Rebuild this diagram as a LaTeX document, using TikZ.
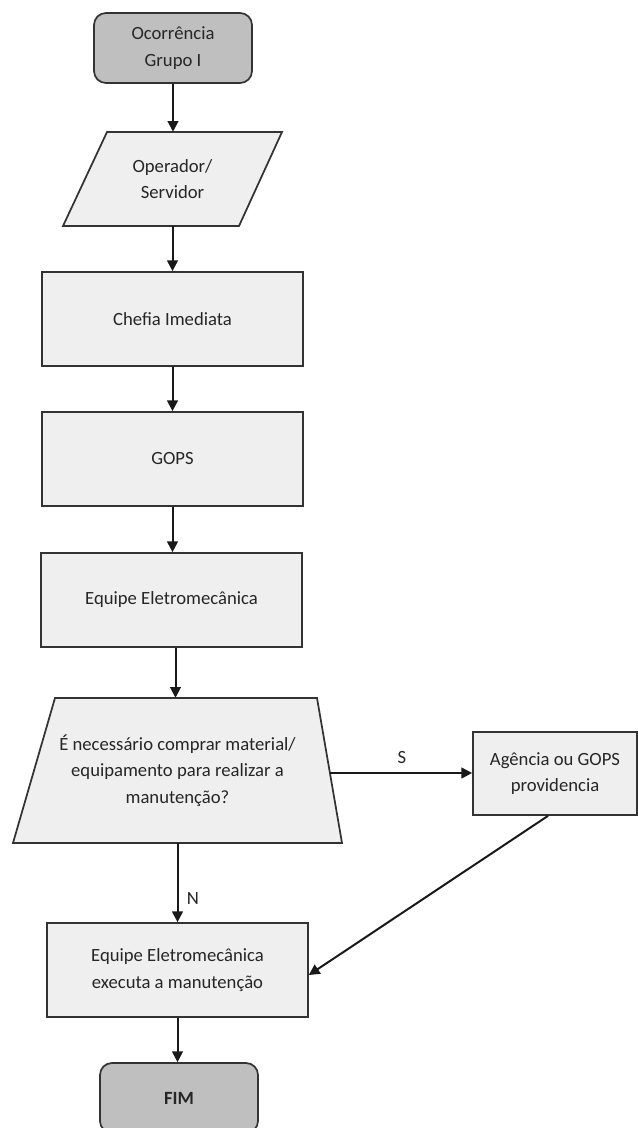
\documentclass[tikz,border=0pt]{standalone}
\usepackage{fontspec}
\setmainfont{Carlito}
\usetikzlibrary{arrows.meta}
\definecolor{lightfill}{HTML}{EFEFEF}
\definecolor{darkfill}{HTML}{BFBFBF}
\definecolor{edgecol}{HTML}{333333}
\definecolor{txt}{HTML}{262626}
\begin{document}
\begin{tikzpicture}[x=0.75pt,y=-0.75pt,
  every node/.style={font=\fontsize{14}{20}\selectfont, text=txt, align=center},
  shapeline/.style={draw=edgecol, line width=1.3pt, fill=lightfill},
  box/.style={shapeline, minimum width=195.75pt, minimum height=70.5pt, inner sep=0pt},
  term/.style={box, fill=darkfill, rounded corners=9pt, minimum width=118.5pt, minimum height=52.5pt},
  hidden/.style={inner sep=0pt},
  arr/.style={draw=black!90, line width=1.5pt, -{Triangle[length=8pt,width=8pt]}}
]
\fill[white] (0,0) rectangle (638,1128);
\useasboundingbox (0,0) rectangle (638,1128);

\node[term] (start) at (173,48) {Ocorrência\\Grupo I};

\draw[shapeline] (107,132) -- (282,132) -- (239,226) -- (63,226) -- cycle;
\node[hidden, minimum width=127.5pt, minimum height=70.5pt] (op) at (172.5,179) {Operador/\\Servidor};

\node[box] (chefia) at (172.5,319) {Chefia Imediata};
\node[box] (gops) at (172.5,459) {GOPS};
\node[box] (eq) at (171.5,600) {Equipe Eletromecânica};

\draw[shapeline] (55,698) -- (317,698) -- (342,843) -- (13,843) -- cycle;
\node[hidden, minimum width=246.75pt, minimum height=108.75pt] (dec) at (177.5,770.5) {É necessário comprar material/\\equipamento para realizar a\\manutenção?};
\coordinate (decR) at (330,773);

\node[box, minimum width=123pt, minimum height=62.25pt] (ag) at (555,773.5) {Agência ou GOPS\\providencia};
\node[box] (fin) at (177.5,970) {Equipe Eletromecânica\\executa a manutenção};
\node[term] (fim) at (179,1098) {\textbf{FIM}};

\draw[arr] (start.south) -- (start.south |- op.north);
\draw[arr] (op.south) -- (op.south |- chefia.north);
\draw[arr] (chefia.south) -- (gops.north);
\draw[arr] (gops.south) -- (gops.south |- eq.north);
\draw[arr] ([xshift=3pt]eq.south) -- ([xshift=3pt]eq.south |- dec.north);
\draw[arr] (decR) -- (decR -| ag.west);
\node (lblS) at (402,757) {S};
\draw[arr] (dec.south) -- (fin.north);
\node (lblN) at (193,898) {N};
\draw[arr] ([xshift=-5.25pt]ag.south) -- ([yshift=-3.75pt]fin.east);
\draw[arr] (fin.south) -- (fin.south |- fim.north);
\end{tikzpicture}
\end{document}
